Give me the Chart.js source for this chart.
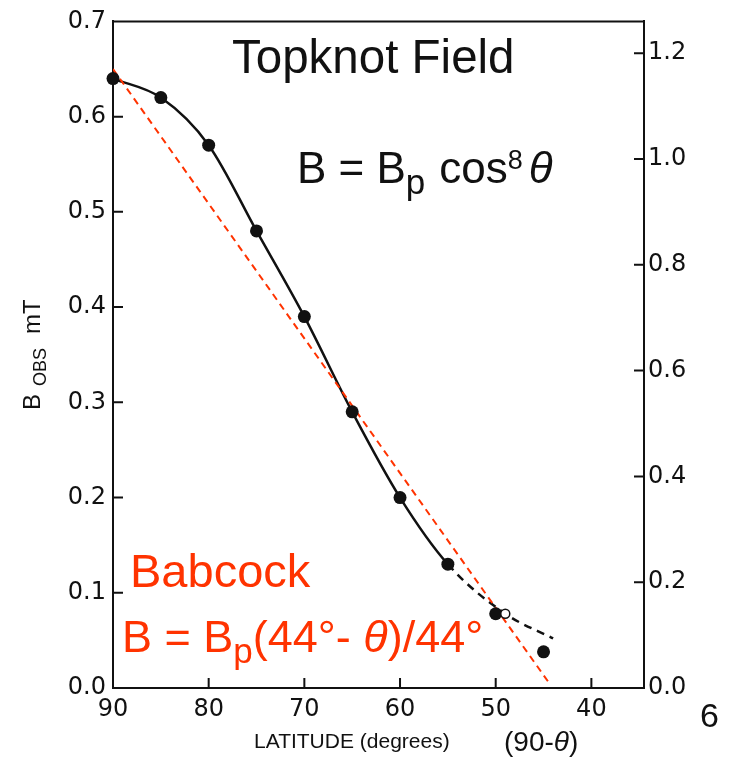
<!DOCTYPE html>
<html>
<head>
<meta charset="utf-8">
<title>Topknot Field</title>
<script src="https://cdn.jsdelivr.net/npm/chart.js@4.4.0/dist/chart.umd.min.js"></script>
<style>
  html, body { margin: 0; padding: 0; background: #fff; }
  #wrap { width: 736px; height: 758px; }
</style>
</head>
<body>
<div id="wrap"><canvas id="topknot" width="736" height="758"></canvas></div>
<script>
// observed field strength vs latitude
const latitudes = [90, 85, 80, 75, 70, 65, 60, 55, 50, 45];
const bObs = [0.64, 0.62, 0.57, 0.48, 0.39, 0.29, 0.2, 0.13, 0.078, 0.038];

// open circle
const openLat = [49];
const openB = [0.078];

// cos^8 fit (dashed beyond 55 deg)
const fitLat = [90, 85, 80, 75, 70, 65, 60, 55, 49, 44];
const fitB = [0.64, 0.62, 0.57, 0.48, 0.39, 0.29, 0.2, 0.13, 0.078, 0.052];

// Babcock linear law
const babcockLat = [90, 44.4];
const babcockB = [0.65, 0.005];

// axis ticks
const latTicks = [90, 80, 70, 60, 50, 40];
const leftTicks = [0, 0.1, 0.2, 0.3, 0.4, 0.5, 0.6, 0.7];
const rightTicks = [0, 0.2, 0.4, 0.6, 0.8, 1.0, 1.2];

const RED = "#ff3300";
const INK = "#111";
const TXT = '"Liberation Sans", Arial, sans-serif';
const TICK_FONT = { family: '"DejaVu Sans", sans-serif', size: 24 };

const pairs = (xs, ys) => xs.map((x, i) => ({ x: x, y: ys[i] }));

function drawRuns(ctx, x, y, runs, color) {
  ctx.fillStyle = color;
  ctx.textAlign = "left";
  ctx.textBaseline = "alphabetic";
  runs.forEach((r) => {
    ctx.font = (r.italic ? "italic " : "") + r.size + "px " + TXT;
    x += r.gap || 0;
    ctx.fillText(r.text, x, y + (r.dy || 0));
    x += ctx.measureText(r.text).width;
  });
}

// box top edge + inward tick marks
const frame = {
  id: "frame",
  afterDraw(chart) {
    const ctx = chart.ctx;
    const a = chart.chartArea;
    ctx.save();
    ctx.strokeStyle = INK;
    ctx.lineWidth = 2;
    ctx.beginPath();
    ctx.moveTo(a.left - 1, a.top);
    ctx.lineTo(a.right + 1, a.top);
    ctx.stroke();

    const len = 10;
    ctx.beginPath();
    chart.scales.x.ticks.forEach((t) => {
      const px = chart.scales.x.getPixelForValue(t.value);
      if (px - a.left < 2 || a.right - px < 2) return;
      ctx.moveTo(px, a.bottom);
      ctx.lineTo(px, a.bottom - len);
    });
    chart.scales.y.ticks.forEach((t) => {
      const py = chart.scales.y.getPixelForValue(t.value);
      if (py - a.top < 2 || a.bottom - py < 2) return;
      ctx.moveTo(a.left, py);
      ctx.lineTo(a.left + len, py);
    });
    chart.scales.y2.ticks.forEach((t) => {
      const py = chart.scales.y2.getPixelForValue(t.value);
      if (py - a.top < 2 || a.bottom - py < 2) return;
      ctx.moveTo(a.right, py);
      ctx.lineTo(a.right - len, py);
    });
    ctx.stroke();
    ctx.restore();
  },
};

// titles, formulas and axis labels
const notes = {
  id: "notes",
  afterDraw(chart) {
    const ctx = chart.ctx;
    ctx.save();

    drawRuns(ctx, 232, 73, [{ text: "Topknot Field", size: 47.5 }], INK);

    drawRuns(ctx, 297, 183, [
      { text: "B = B", size: 44 },
      { text: "p", size: 35, dy: 11 },
      { text: "cos", size: 44, gap: 14 },
      { text: "8", size: 27, dy: -14 },
      { text: "\u03b8", size: 44, italic: true, gap: 6 },
    ], INK);

    drawRuns(ctx, 130, 587, [{ text: "Babcock", size: 47 }], RED);
    drawRuns(ctx, 122, 652, [
      { text: "B = B", size: 45 },
      { text: "p", size: 35, dy: 11 },
      { text: "(44\u00b0- ", size: 45 },
      { text: "\u03b8", size: 45, italic: true },
      { text: ")/44\u00b0", size: 45 },
    ], RED);

    // x axis title
    drawRuns(ctx, 254, 748, [{ text: "LATITUDE (degrees)", size: 21 }], INK);
    drawRuns(ctx, 504, 751, [
      { text: "(90-", size: 28 },
      { text: "\u03b8", size: 28, italic: true },
      { text: ")", size: 28 },
    ], INK);

    drawRuns(ctx, 700, 727, [{ text: "6", size: 34 }], INK);

    // left y title, rotated
    ctx.translate(40, 410);
    ctx.rotate(-Math.PI / 2);
    drawRuns(ctx, 0, 0, [
      { text: "B", size: 24 },
      { text: "OBS", size: 18, dy: 6, gap: 8 },
      { text: "mT", size: 24, gap: 14 },
    ], INK);
    ctx.restore();
  },
};

new Chart(document.getElementById("topknot"), {
  type: "line",
  data: {
    datasets: [
      {
        label: "observed",
        data: pairs(latitudes, bObs),
        showLine: false,
        pointRadius: 6.5,
        pointHoverRadius: 6.5,
        pointBackgroundColor: INK,
        pointBorderColor: INK,
        pointBorderWidth: 0,
        clip: false,
        order: 1,
        yAxisID: "y",
      },
      {
        label: "open",
        data: pairs(openLat, openB),
        showLine: false,
        pointRadius: 4.5,
        pointBackgroundColor: "#fff",
        pointBorderColor: INK,
        pointBorderWidth: 1.5,
        clip: false,
        order: 0,
        yAxisID: "y",
      },
      {
        label: "cos8 fit",
        data: pairs(fitLat, fitB),
        borderColor: INK,
        borderWidth: 2.5,
        pointRadius: 0,
        cubicInterpolationMode: "monotone",
        fill: false,
        clip: false,
        order: 3,
        segment: {
          borderDash: (ctx) => (ctx.p0.parsed.x <= 55 ? [8, 6] : undefined),
        },
        yAxisID: "y",
      },
      {
        label: "Babcock",
        data: pairs(babcockLat, babcockB),
        borderColor: RED,
        borderWidth: 2,
        borderDash: [7, 5],
        pointRadius: 0,
        fill: false,
        order: 2,
        yAxisID: "y",
      },
    ],
  },
  options: {
    responsive: false,
    devicePixelRatio: 1,
    animation: false,
    layout: { padding: { top: 16, left: 0, right: 0, bottom: 0 } },
    plugins: {
      legend: { display: false },
      tooltip: { enabled: false },
    },
    scales: {
      x: {
        type: "linear",
        reverse: true,
        min: 34.5,
        max: 90,
        afterBuildTicks: (s) => { s.ticks = latTicks.map((v) => ({ value: v })); },
        afterFit: (s) => { s.height = 70; },
        grid: { display: false, drawTicks: false },
        border: { display: true, color: INK, width: 2 },
        ticks: { color: INK, font: TICK_FONT, padding: 7, maxRotation: 0, callback: (v) => String(v) },
      },
      y: {
        position: "left",
        min: 0,
        max: 0.7,
        afterBuildTicks: (s) => { s.ticks = leftTicks.map((v) => ({ value: v })); },
        afterFit: (s) => { s.width = 113; },
        grid: { display: false, drawTicks: false },
        border: { display: true, color: INK, width: 2 },
        ticks: { color: INK, font: TICK_FONT, padding: 7, callback: (v) => v.toFixed(1) },
      },
      y2: {
        position: "right",
        min: 0,
        max: 1.26,
        afterBuildTicks: (s) => { s.ticks = rightTicks.map((v) => ({ value: v })); },
        afterFit: (s) => { s.width = 92; },
        grid: { display: false, drawTicks: false },
        border: { display: true, color: INK, width: 2 },
        ticks: { color: INK, font: TICK_FONT, padding: 4, callback: (v) => v.toFixed(1) },
      },
    },
  },
  plugins: [frame, notes],
});
</script>
</body>
</html>
